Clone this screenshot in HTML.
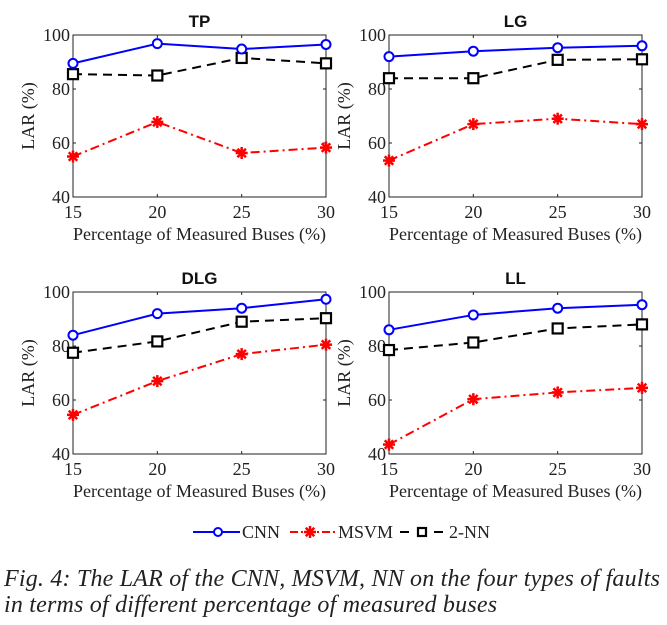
<!DOCTYPE html>
<html><head><meta charset="utf-8"><style>
body{margin:0;background:#fff;width:667px;height:625px;overflow:hidden;font-family:"Liberation Serif",serif}
svg text{font-family:"Liberation Serif",serif}
svg text.sans{font-family:"Liberation Sans",sans-serif}
.cap{position:absolute;left:4px;top:566px;font-style:italic;font-size:24px;line-height:26px;color:#222;white-space:nowrap;letter-spacing:0.2px}
</style></head><body>
<svg id="c" width="667" height="560" style="position:absolute;left:0;top:0"></svg>
<div class="cap">Fig. 4: The LAR of the CNN, MSVM, NN on the four types of faults<br>in terms of different percentage of measured buses</div>
<script>
const categories=[15,20,25,30];
const yTicks=[40,60,80,100];
const titles=["TP","LG","DLG","LL"];
const cnnTP=[89.5,96.8,94.8,96.5], msvmTP=[55,67.8,56.3,58.3], nnTP=[85.5,85,91.5,89.5];
const cnnLG=[92,94,95.3,96], msvmLG=[53.5,67,69,67], nnLG=[84,84,90.8,91];
const cnnDLG=[84,92,94,97.3], msvmDLG=[54.5,67,77,80.5], nnDLG=[77.5,81.7,89,90.3];
const cnnLL=[86,91.5,94,95.3], msvmLL=[43.5,60.3,62.8,64.5], nnLL=[78.5,81.3,86.5,88];
const panels=[[cnnTP,msvmTP,nnTP],[cnnLG,msvmLG,nnLG],[cnnDLG,msvmDLG,nnDLG],[cnnLL,msvmLL,nnLL]];
const boxes=[[73,35],[389,35],[73,292],[389,292]];
const W=253,H=162;
const svg=document.getElementById('c');
const NS='http://www.w3.org/2000/svg';
function mk(t,a,p){const e=document.createElementNS(NS,t);for(const k in a)e.setAttribute(k,a[k]);(p||svg).appendChild(e);return e;}
function star(g,x,y,col){for(let i=0;i<4;i++){const a=i*Math.PI/4;mk('line',{x1:x-6*Math.cos(a),y1:y-6*Math.sin(a),x2:x+6*Math.cos(a),y2:y+6*Math.sin(a),stroke:col,'stroke-width':2.5},g);}}
panels.forEach((p,i)=>{
  const [x0,y0]=boxes[i];
  const g=mk('g',{});
  
  
  const sx=v=>x0+(v-15)/15*W, sy=v=>y0+H-(v-40)/60*H;
  mk('rect',{x:x0,y:y0,width:W,height:H,fill:'none',stroke:'#222','stroke-width':1},g);
  yTicks.forEach(t=>{mk('line',{x1:x0,x2:x0+3,y1:sy(t),y2:sy(t),stroke:'#222'},g);mk('line',{x1:x0+W,x2:x0+W-3,y1:sy(t),y2:sy(t),stroke:'#222'},g);
    const tx=mk('text',{x:x0-3,y:sy(t)+6,'text-anchor':'end','font-size':18,fill:'#222'},g);tx.textContent=t;});
  categories.forEach(c=>{mk('line',{x1:sx(c),x2:sx(c),y1:y0+H,y2:y0+H-3,stroke:'#222'},g);mk('line',{x1:sx(c),x2:sx(c),y1:y0,y2:y0+3,stroke:'#222'},g);
    const tx=mk('text',{x:sx(c),y:y0+H+21,'text-anchor':'middle','font-size':18,fill:'#222'},g);tx.textContent=c;});
  const xl=mk('text',{x:x0+W/2,y:y0+H+43,'text-anchor':'middle','font-size':18,fill:'#222'},g);xl.textContent='Percentage of Measured Buses (%)';
  
  const yl=mk('text',{x:0,y:0,transform:`translate(${x0-39},${y0+H/2}) rotate(-90)`,'text-anchor':'middle','font-size':18,fill:'#222'},g);yl.textContent='LAR (%)';
  
  const tt=mk('text',{x:x0+W/2,y:y0-8,'text-anchor':'middle','font-size':17,'font-weight':'bold',class:'sans',fill:'#111'},g);tt.textContent=titles[i];
  
  const [cnn,msvm,nn]=p;
  const pts=a=>a.map((v,j)=>sx(categories[j])+','+sy(v)).join(' ');
  mk('polyline',{points:pts(nn),fill:'none',stroke:'#000','stroke-width':2,'stroke-dasharray':'9,6'},g);
  nn.forEach((v,j)=>mk('rect',{x:sx(categories[j])-5,y:sy(v)-5,width:10,height:10,fill:'#fff',stroke:'#000','stroke-width':2.2},g));
  mk('polyline',{points:pts(msvm),fill:'none',stroke:'#f00','stroke-width':2,'stroke-dasharray':'9,4,2,4'},g);
  msvm.forEach((v,j)=>star(g,sx(categories[j]),sy(v),'#f00'));
  mk('polyline',{points:pts(cnn),fill:'none',stroke:'#00f','stroke-width':2},g);
  cnn.forEach((v,j)=>mk('circle',{cx:sx(categories[j]),cy:sy(v),r:4.5,fill:'#fff',stroke:'#00f','stroke-width':2},g));
});
const lg=mk('g',{});


mk('line',{x1:193,x2:240,y1:532,y2:532,stroke:'#00f','stroke-width':2},lg);
mk('circle',{cx:218,cy:532,r:4,fill:'#fff',stroke:'#00f','stroke-width':2},lg);
let t=mk('text',{x:242,y:538,'font-size':18,fill:'#222'},lg);t.textContent='CNN';
mk('line',{x1:290,x2:335,y1:532,y2:532,stroke:'#f00','stroke-width':2,'stroke-dasharray':'8,3,2,3'},lg);
star(lg,310,532,'#f00');
t=mk('text',{x:338,y:538,'font-size':18,fill:'#222'},lg);t.textContent='MSVM';
mk('line',{x1:400,x2:445,y1:532,y2:532,stroke:'#000','stroke-width':2,'stroke-dasharray':'9,8'},lg);
mk('rect',{x:418,y:528,width:8,height:8,fill:'#fff',stroke:'#000','stroke-width':2.2},lg);
t=mk('text',{x:449,y:538,'font-size':18,fill:'#222'},lg);t.textContent='2-NN';
</script>
</body></html>
